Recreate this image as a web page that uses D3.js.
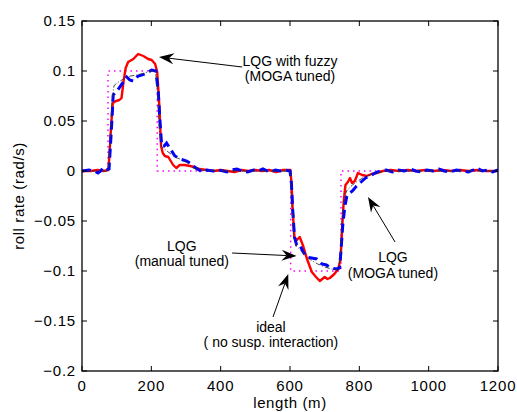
<!DOCTYPE html>
<html>
<head>
<meta charset="utf-8">
<script src="https://cdn.jsdelivr.net/npm/d3@7"></script>
<style>
  body { margin: 0; background: #fff; }
  svg { display: block; }
  .tick-label { font-family: 'Liberation Sans', Arial, sans-serif; font-size: 15px; letter-spacing: 0.8px; fill: #000; }
  .axis-label { font-family: 'Liberation Sans', Arial, sans-serif; font-size: 15px; letter-spacing: 0.6px; fill: #000; }
  .note { font-family: 'Liberation Sans', Arial, sans-serif; font-size: 14px; fill: #000; }
</style>
</head>
<body>
<svg id="chart" width="517" height="412"></svg>
<script>
/* axis ticks and labels */
const xTicks = [0, 200, 400, 600, 800, 1000, 1200]
const yTicks = [-0.2, -0.15, -0.1, -0.05, 0, 0.05, 0.1, 0.15]
const xLabel = 'length (m)'
const yLabel = 'roll rate (rad/s)'

/* ideal response (no suspension interaction) */
const ideal = [
  [0, 0], [75, 0], [75, 0.1], [217, 0.1], [217, 0], [602, 0],
  [602, -0.1], [747, -0.1], [747, 0], [1200, 0]
]

/* LQG manual tuned (black dash-dot) */
const lqgManual = [
  [0, 0], [76, 0], [80, 0.02], [86, 0.07], [92, 0.085], [100, 0.088], [110, 0.09],
  [125, 0.093], [140, 0.095], [160, 0.096], [180, 0.098], [200, 0.1], [212, 0.1],
  [218, 0.08], [223, 0.04], [230, 0.024], [245, 0.02], [260, 0.016], [275, 0.013],
  [290, 0.011], [305, 0.008], [320, 0.003], [340, 0.001], [400, 0], [600, 0],
  [605, -0.03], [610, -0.065], [618, -0.075], [630, -0.079], [645, -0.085],
  [660, -0.089], [680, -0.093], [700, -0.096], [720, -0.098], [740, -0.099],
  [746, -0.08], [750, -0.05], [756, -0.026], [765, -0.019], [780, -0.014],
  [795, -0.01], [810, -0.007], [830, -0.004], [850, -0.002], [870, 0], [1200, 0]
]

/* LQG MOGA tuned (blue dashed) */
const lqgMoga = [
  [0, 0], [20, 0.001], [35, 0], [46, -0.002], [54, 0], [60, 0.003], [70, 0.001],
  [78, 0.002], [82, 0.025], [86, 0.049], [90, 0.076], [98, 0.079], [105, 0.082],
  [119, 0.089], [129, 0.094], [138, 0.091], [148, 0.09], [162, 0.095], [182, 0.097],
  [201, 0.101], [213, 0.1], [220, 0.079], [225, 0.049], [230, 0.025], [237, 0.025],
  [244, 0.028], [253, 0.023], [268, 0.015], [283, 0.012], [302, 0.01], [315, 0.007],
  [328, 0.003], [338, 0.001], [346, -0.001], [360, 0.001], [378, 0], [395, 0.001],
  [418, -0.001], [432, 0.001], [447, 0.002], [462, 0], [478, -0.001], [495, 0.001],
  [508, 0], [522, 0.002], [535, 0], [542, -0.001], [558, 0.001], [572, 0],
  [585, 0.001], [600, 0], [604, -0.012], [608, -0.04], [613, -0.066], [619, -0.074],
  [624, -0.076], [630, -0.075], [638, -0.081], [648, -0.086], [662, -0.087],
  [677, -0.088], [692, -0.093], [705, -0.094], [718, -0.097], [735, -0.098],
  [743, -0.097], [747, -0.08], [752, -0.055], [758, -0.036], [764, -0.025],
  [772, -0.022], [780, -0.02], [792, -0.015], [805, -0.011], [818, -0.007],
  [831, -0.005], [845, -0.002], [860, 0], [878, 0.001], [895, -0.001], [912, 0.001],
  [930, 0], [948, 0.002], [962, 0], [980, -0.001], [995, 0.001], [1012, 0],
  [1030, 0.002], [1045, 0], [1062, -0.001], [1080, 0.001], [1098, 0],
  [1115, -0.001], [1128, 0.001], [1140, 0.003], [1155, 0], [1170, 0.001],
  [1185, -0.001], [1200, 0.001]
]

/* LQG with fuzzy, MOGA tuned (red solid) */
const lqgFuzzy = [
  [0, 0], [25, 0], [45, 0.001], [62, 0], [76, 0.001], [79, 0.015], [84, 0.045],
  [89, 0.068], [98, 0.07], [108, 0.071], [114, 0.073], [120, 0.09], [126, 0.103],
  [133, 0.109], [148, 0.112], [162, 0.117], [177, 0.115], [191, 0.112],
  [201, 0.111], [211, 0.107], [217, 0.099], [223, 0.066], [228, 0.025],
  [233, 0.018], [239, 0.015], [249, 0.014], [256, 0.01], [263, 0.006],
  [272, 0.003], [282, 0.006], [297, 0.006], [311, 0.005], [325, 0.004],
  [338, 0.002], [360, 0.001], [380, 0], [400, 0.001], [420, 0], [440, -0.001],
  [460, 0.001], [480, 0], [500, 0.001], [520, 0], [540, 0.001], [560, -0.001],
  [580, 0.001], [601, 0.001], [604, -0.01], [608, -0.04], [613, -0.067],
  [620, -0.069], [628, -0.066], [638, -0.075], [649, -0.088], [663, -0.101],
  [675, -0.106], [686, -0.11], [700, -0.106], [708, -0.108], [715, -0.107],
  [728, -0.103], [739, -0.098], [746, -0.088], [750, -0.06], [755, -0.03],
  [760, -0.014], [767, -0.011], [773, -0.007], [779, -0.012], [787, -0.01],
  [796, -0.002], [808, -0.004], [821, -0.005], [835, -0.003], [850, -0.002],
  [868, 0], [890, 0.001], [915, 0], [940, 0.001], [965, 0], [990, 0.001],
  [1015, 0], [1040, 0.001], [1065, 0], [1090, 0.001], [1115, 0], [1140, 0.001],
  [1165, 0], [1200, 0]
]

/* annotations: text lines and arrows, in data units */
const notes = [
  { x: 600, y: [0.105, 0.090], lines: ['LQG with fuzzy', '(MOGA tuned)'] },
  { x: 288, y: [-0.080, -0.095], lines: ['LQG', '(manual tuned)'] },
  { x: 545, y: [-0.161, -0.176], lines: ['ideal', '( no susp. interaction)'] },
  { x: 897, y: [-0.091, -0.107], lines: ['LQG', '(MOGA tuned)'] }
]
const arrows = [
  { from: [462, 0.104], to: [222, 0.114] },
  { from: [433, -0.082], to: [619, -0.085] },
  { from: [551, -0.146], to: [595, -0.103] },
  { from: [903, -0.071], to: [825, -0.026] }
]

/* plot box */
const margin = { top: 21, left: 82, right: 19, bottom: 41 }
const width = 517 - margin.left - margin.right
const height = 412 - margin.top - margin.bottom

const svg = d3.select('#chart')
const g = svg.append('g').attr('transform', `translate(${margin.left},${margin.top})`)

const x = d3.scaleLinear().domain([0, 1200]).range([0, width])
const y = d3.scaleLinear().domain([-0.2, 0.15]).range([height, 0])

const line = d3.line().x((d) => x(d[0])).y((d) => y(d[1]))

/* clip to the axes box */
g.append('clipPath').attr('id', 'clip')
  .append('rect').attr('width', width).attr('height', height)
const plot = g.append('g').attr('clip-path', 'url(#clip)')

/* ideal - magenta dotted */
plot.append('path').attr('d', line(ideal))
  .attr('fill', 'none').attr('stroke', '#ff00ff').attr('stroke-width', 1.5)
  .attr('stroke-dasharray', '1.5,4')

/* fuzzy - red solid */
plot.append('path').attr('d', line(lqgFuzzy))
  .attr('fill', 'none').attr('stroke', '#ff0000').attr('stroke-width', 2.4)
  .attr('stroke-linejoin', 'round')

/* MOGA - blue dashed */
plot.append('path').attr('d', line(lqgMoga))
  .attr('fill', 'none').attr('stroke', '#0000ff').attr('stroke-width', 3)
  .attr('stroke-dasharray', '9,5')

/* manual - black dash-dot */
plot.append('path').attr('d', line(lqgManual))
  .attr('fill', 'none').attr('stroke', '#333').attr('stroke-width', 0.9)
  .attr('stroke-dasharray', '5,2,1,2')

/* axes box with inward ticks on all sides */
const tickLen = 5
g.append('rect').attr('width', width).attr('height', height)
  .attr('fill', 'none').attr('stroke', '#000').attr('stroke-width', 1.3)

xTicks.forEach(function (t) {
  g.append('line').attr('x1', x(t)).attr('x2', x(t)).attr('y1', height).attr('y2', height - tickLen)
    .attr('stroke', '#000')
  g.append('line').attr('x1', x(t)).attr('x2', x(t)).attr('y1', 0).attr('y2', tickLen)
    .attr('stroke', '#000')
  g.append('text').attr('class', 'tick-label')
    .attr('x', x(t)).attr('y', height + 20)
    .attr('text-anchor', 'middle').text(t)
})

const fmtY = (v) => (v < 0 ? '\u2212' : '') + String(Math.abs(+v.toFixed(2)))
yTicks.forEach(function (t) {
  g.append('line').attr('x1', 0).attr('x2', tickLen).attr('y1', y(t)).attr('y2', y(t))
    .attr('stroke', '#000')
  g.append('line').attr('x1', width).attr('x2', width - tickLen).attr('y1', y(t)).attr('y2', y(t))
    .attr('stroke', '#000')
  g.append('text').attr('class', 'tick-label')
    .attr('x', -6).attr('y', y(t) + 5)
    .attr('text-anchor', 'end').text(fmtY(t))
})

/* axis labels */
g.append('text').attr('class', 'axis-label')
  .attr('x', width / 2).attr('y', height + 37)
  .attr('text-anchor', 'middle').text(xLabel)
svg.append('text').attr('class', 'axis-label')
  .attr('transform', `translate(24, ${margin.top + height / 2}) rotate(-90)`)
  .attr('text-anchor', 'middle').text(yLabel)

/* annotation text */
notes.forEach(function (n) {
  n.lines.forEach(function (s, i) {
    g.append('text').attr('class', 'note')
      .attr('x', x(n.x)).attr('y', y(n.y[i]))
      .attr('text-anchor', 'middle').text(s)
  })
})

/* annotation arrows */
arrows.forEach(function (a) {
  const x0 = x(a.from[0]), y0 = y(a.from[1])
  const x1 = x(a.to[0]), y1 = y(a.to[1])
  const ang = Math.atan2(y1 - y0, x1 - x0)
  const len = 15, half = 5.5, notch = 10
  const ux = Math.cos(ang), uy = Math.sin(ang)
  const px = -uy, py = ux
  g.append('line').attr('x1', x0).attr('y1', y0)
    .attr('x2', x1 - ux * notch).attr('y2', y1 - uy * notch)
    .attr('stroke', '#000').attr('stroke-width', 1)
  const head = [
    [x1, y1],
    [x1 - ux * len + px * half, y1 - uy * len + py * half],
    [x1 - ux * notch, y1 - uy * notch],
    [x1 - ux * len - px * half, y1 - uy * len - py * half]
  ]
  g.append('path').attr('d', 'M' + head.map((p) => p.join(',')).join('L') + 'Z')
    .attr('fill', '#000')
})
</script>
</body>
</html>
